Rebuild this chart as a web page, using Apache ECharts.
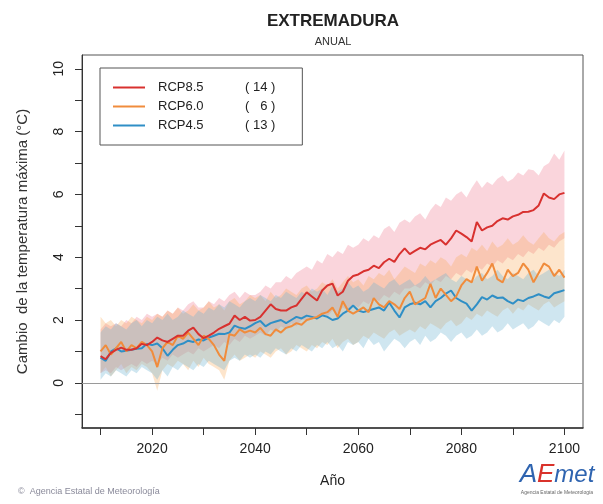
<!DOCTYPE html>
<html>
<head>
<meta charset="utf-8">
<script src="https://cdn.jsdelivr.net/npm/echarts@6/dist/echarts.min.js"></script>
<style>html,body{margin:0;padding:0;background:#fff}#c{width:603px;height:504px}</style>
</head>
<body>
<div id="c"></div>
<script>
// ---- data ----
const years = [];
for (let y = 2010; y <= 2100; y++) years.push(y);

const xTicks = [2010, 2020, 2030, 2040, 2050, 2060, 2070, 2080, 2090, 2100];
const xLabels = [2020, 2040, 2060, 2080, 2100];
const yTicks = [-1, 0, 1, 2, 3, 4, 5, 6, 7, 8, 9, 10];
const yLabels = [0, 2, 4, 6, 8, 10];

const seriesNames = ['RCP8.5', 'RCP6.0', 'RCP4.5'];
const modelCounts = [14, 6, 13];

const rcp85 = [
  0.85, 0.75, 0.95, 1.05, 1.12, 1.05, 1.05, 1.10, 1.24, 1.20,
  1.30, 1.44, 1.35, 1.30, 1.40, 1.50, 1.50, 1.66, 1.76, 1.55,
  1.42, 1.50, 1.60, 1.72, 1.80, 1.88, 2.14, 2.00, 2.10, 1.98,
  2.00, 2.10, 2.30, 2.50, 2.35, 2.30, 2.30, 2.40, 2.46, 2.67,
  2.88, 2.75, 2.62, 2.94, 3.10, 3.16, 2.78, 2.90, 3.25, 3.40,
  3.45, 3.55, 3.60, 3.73, 3.65, 3.84, 3.95, 3.85, 4.10, 4.28,
  4.10, 4.20, 4.30, 4.25, 4.40, 4.48, 4.55, 4.40, 4.60, 4.85,
  4.75, 4.64, 4.50, 5.12, 4.85, 4.95, 5.00, 5.15, 5.24, 5.20,
  5.30, 5.35, 5.44, 5.45, 5.50, 5.65, 6.03, 5.90, 5.85, 6.00, 6.05
];
const rcp60 = [
  1.00, 1.20, 0.90, 1.10, 1.30, 1.00, 1.20, 1.10, 1.30, 1.20,
  1.00, 0.50, 1.10, 1.30, 1.20, 1.50, 1.40, 1.60, 1.40, 1.20,
  1.50, 1.40, 1.20, 0.90, 0.70, 1.55, 1.50, 1.70, 1.60, 1.66,
  1.60, 1.75, 1.55, 1.50, 1.70, 1.60, 1.75, 1.80, 1.90, 1.85,
  2.00, 2.05, 2.10, 2.20, 2.25, 2.40, 2.10, 2.60, 2.30, 2.20,
  2.30, 2.40, 2.25, 2.70, 2.50, 2.40, 2.60, 2.50, 2.35, 2.70,
  2.90, 2.50, 2.60, 2.70, 3.15, 2.70, 3.00, 2.80, 2.60, 2.75,
  3.10, 3.30, 3.20, 3.70, 3.25, 3.50, 3.80, 3.30, 3.20, 3.60,
  3.40, 3.50, 3.80, 3.60, 3.20, 3.50, 3.80, 3.70, 3.40, 3.60, 3.35
];
const rcp45 = [
  0.80, 0.70, 0.99, 1.10, 1.00, 1.02, 1.05, 1.08, 1.10, 1.24,
  1.20, 1.25, 1.10, 0.86, 1.05, 1.20, 1.25, 1.34, 1.30, 1.38,
  1.35, 1.44, 1.50, 1.56, 1.55, 1.60, 1.82, 1.75, 1.72, 1.80,
  1.90, 1.97, 1.80, 1.90, 1.95, 2.00, 1.90, 2.00, 2.10, 2.05,
  2.14, 2.10, 2.05, 2.15, 2.10, 2.00, 2.05, 2.20, 2.30, 2.46,
  2.30, 2.25, 2.30, 2.35, 2.40, 2.30, 2.56, 2.30, 2.08, 2.40,
  2.50, 2.55, 2.50, 2.60, 2.40, 2.60, 2.70, 2.84, 2.94, 2.70,
  2.60, 2.52, 2.30, 2.50, 2.73, 2.65, 2.78, 2.70, 2.72, 2.60,
  2.52, 2.65, 2.60, 2.70, 2.75, 2.82, 2.75, 2.70, 2.85, 2.90, 2.95
];

const rcp85Hi = [
  1.7, 1.9, 1.8, 1.9, 1.8, 2.0, 1.9, 2.1, 2.0, 2.2,
  2.1, 2.2, 2.1, 2.3, 2.2, 2.4, 2.3, 2.5, 2.6, 2.4,
  2.4, 2.6, 2.5, 2.7, 2.6, 2.8, 2.9, 2.7, 2.9, 2.8,
  2.8, 2.9, 3.1, 3.0, 3.2, 3.2, 3.4, 3.3, 3.5, 3.6,
  3.7, 3.6, 3.9, 3.8, 4.1, 4.0, 4.2, 4.1, 4.4, 4.3,
  4.4, 4.6, 4.5, 4.7, 4.6, 4.9, 5.0, 4.8, 5.1, 5.2,
  5.1, 5.3, 5.4, 5.2, 5.5, 5.7, 5.6, 5.9, 5.8, 6.0,
  6.1, 5.9, 6.2, 6.45, 6.2, 6.4, 6.3, 6.5, 6.6, 6.4,
  6.5, 6.7, 6.6, 6.8, 6.77, 6.6, 6.9, 7.0, 7.3, 7.1, 7.4
];
const rcp85Lo = [
  0.3, 0.4, 0.3, 0.5, 0.4, 0.5, 0.6, 0.5, 0.7, 0.6,
  0.7, 0.6, 0.8, 0.7, 0.9, 0.8, 0.9, 1.0, 0.9, 1.1,
  1.0, 1.1, 1.2, 1.1, 1.3, 1.2, 1.4, 1.3, 1.5, 1.4,
  1.5, 1.6, 1.5, 1.7, 1.6, 1.8, 1.7, 1.9, 1.8, 2.0,
  2.0, 2.1, 2.0, 2.2, 2.1, 2.3, 2.2, 2.4, 2.3, 2.5,
  2.4, 2.6, 2.5, 2.7, 2.6, 2.8, 2.7, 2.9, 2.8, 3.0,
  3.0, 3.1, 3.0, 3.2, 3.1, 3.3, 3.2, 3.4, 3.3, 3.5,
  3.4, 3.6, 3.5, 3.7, 3.6, 3.8, 3.7, 3.9, 3.8, 4.0,
  3.9, 4.1, 4.0, 4.2, 4.1, 4.3, 4.2, 4.4, 4.3, 4.5, 4.6
];
const rcp60Hi = [
  2.1, 1.9, 2.0, 1.8, 2.0, 1.9, 2.1, 2.0, 1.9, 2.1,
  2.0, 2.2, 2.1, 2.3, 2.2, 2.4, 2.2, 2.3, 2.5, 2.3,
  2.4, 2.6, 2.4, 2.5, 2.3, 2.6, 2.7, 2.5, 2.6, 2.8,
  2.7, 2.8, 2.6, 2.9, 2.7, 2.8, 3.0, 2.9, 2.8, 3.0,
  3.1, 2.9, 3.0, 3.2, 3.1, 3.3, 3.0, 3.2, 3.4, 3.2,
  3.3, 3.1, 3.4, 3.3, 3.5, 3.4, 3.6, 3.3, 3.5, 3.7,
  3.6, 3.5, 3.8, 3.7, 3.9, 3.8, 4.0, 3.9, 3.7, 4.0,
  4.1, 4.0, 4.3, 4.2, 4.4, 4.2, 4.5, 4.3, 4.4, 4.6,
  4.4, 4.5, 4.7, 4.5, 4.4, 4.6, 4.8, 4.6, 4.5, 4.7, 4.8
];
const rcp60Lo = [
  0.3, 0.5, 0.2, 0.4, 0.6, 0.3, 0.5, 0.4, 0.6, 0.5,
  0.3, -0.25, 0.4, 0.6, 0.5, 0.7, 0.6, 0.4, 0.7, 0.5,
  0.8, 0.6, 0.5, 0.4, 0.1, 0.7, 0.9, 0.7, 0.8, 0.9,
  0.8, 1.0, 0.9, 0.8, 1.0, 1.1, 0.9, 1.0, 1.2, 1.1,
  1.0, 1.2, 1.1, 1.3, 1.2, 1.4, 1.1, 1.3, 1.4, 1.2,
  1.3, 1.5, 1.4, 1.6, 1.5, 1.4, 1.6, 1.7, 1.5, 1.6,
  1.7, 1.6, 1.8, 1.7, 1.9, 1.8, 1.7, 1.9, 2.0, 1.8,
  1.9, 2.1, 2.0, 2.2, 2.1, 2.3, 2.2, 2.1, 2.3, 2.4,
  2.2, 2.4, 2.3, 2.5, 2.4, 2.3, 2.5, 2.6, 2.4, 2.5, 2.6
];
const rcp45Hi = [
  1.6, 1.8, 1.7, 1.9, 1.8, 1.7, 1.9, 2.0, 1.8, 2.0,
  1.9, 2.1, 2.0, 2.2, 2.0, 2.1, 2.3, 2.2, 2.1, 2.3,
  2.2, 2.4, 2.3, 2.5, 2.4, 2.6, 2.5, 2.4, 2.6, 2.7,
  2.6, 2.8, 2.7, 2.6, 2.8, 2.7, 2.9, 2.8, 2.7, 2.9,
  2.8, 3.0, 2.9, 3.0, 2.8, 3.1, 2.9, 3.0, 3.2, 3.0,
  3.1, 2.9, 3.0, 3.2, 3.1, 3.0, 3.2, 3.3, 3.1, 3.2,
  3.3, 3.1, 3.2, 3.4, 3.2, 3.3, 3.4, 3.5, 3.3, 3.2,
  3.4, 3.3, 3.2, 3.4, 3.5, 3.3, 3.4, 3.6, 3.4, 3.3,
  3.5, 3.4, 3.3, 3.5, 3.6, 3.4, 3.5, 3.6, 3.5, 3.4, 3.6
];
const rcp45Lo = [
  0.1, 0.3, 0.2, 0.4, 0.3, 0.2, 0.4, 0.3, 0.5, 0.4,
  0.3, 0.1, 0.4, 0.2, 0.5, 0.4, 0.6, 0.5, 0.4, 0.6,
  0.5, 0.7, 0.6, 0.5, 0.4, 0.7, 0.8, 0.7, 0.9, 0.8,
  0.9, 0.8, 1.0, 0.9, 1.1, 1.0, 0.9, 1.1, 1.0, 1.2,
  1.1, 1.0, 1.2, 1.1, 1.3, 1.1, 1.2, 1.0, 1.3, 1.2,
  1.3, 1.1, 1.4, 1.2, 1.3, 1.0, 1.2, 1.4, 1.3, 1.1,
  1.3, 1.4, 1.2, 1.5, 1.3, 1.4, 1.6, 1.5, 1.3, 1.5,
  1.6, 1.4, 1.5, 1.7, 1.5, 1.6, 1.8, 1.6, 1.7, 1.9,
  1.7, 1.8, 1.9, 1.7, 1.8, 2.0, 1.9, 1.8, 2.0, 1.9, 2.1
];

// ---- styles ----
const FONT = "'Liberation Sans', Arial, Helvetica, sans-serif";
const lineColors = ['#d8312f', '#f08c3c', '#2f8fc6'];
const bandColors = ['rgba(236,100,125,0.27)', 'rgba(250,170,85,0.30)', 'rgba(110,180,210,0.33)'];

function bandSeries(lo, hi, color) {
  return {
    type: 'custom',
    silent: true,
    z: 1,
    data: years.map((y, i) => [y, lo[i], hi[i]]),
    encode: { x: 0, y: [1, 2] },
    renderItem: function (params, api) {
      if (params.dataIndex !== 0) return null;
      const pts = [];
      for (let i = 0; i < years.length; i++) pts.push(api.coord([years[i], hi[i]]));
      for (let i = years.length - 1; i >= 0; i--) pts.push(api.coord([years[i], lo[i]]));
      return { type: 'polygon', shape: { points: pts }, style: { fill: color, stroke: null } };
    }
  };
}
function lineSeries(name, vals, color, z) {
  return {
    name: name, type: 'line', showSymbol: false, symbol: 'none', z: z,
    data: years.map((y, i) => [y, vals[i]]),
    lineStyle: { color: color, width: 2 }, itemStyle: { color: color },
    emphasis: { disabled: true }
  };
}

const chart = echarts.init(document.getElementById('c'), null, { renderer: 'canvas' });
const option = {
  animation: false,
  backgroundColor: '#fff',
  textStyle: { fontFamily: FONT },
  grid: { left: 82, right: 20, top: 55, bottom: 76, show: true, borderColor: '#555', borderWidth: 1 },
  xAxis: {
    type: 'value', min: 2006.4, max: 2103.6,
    axisLine: { show: true, onZero: false, lineStyle: { color: '#333', width: 1.5 } },
    axisTick: { show: true, customValues: xTicks, length: 7, lineStyle: { color: '#333' } },
    axisLabel: { customValues: xLabels, formatter: function (v) { return String(v); }, color: '#222', fontSize: 14, margin: 14, fontFamily: FONT },
    splitLine: { show: false },
    name: 'Año', nameLocation: 'middle', nameGap: 46,
    nameTextStyle: { color: '#222', fontSize: 14, fontFamily: FONT }
  },
  yAxis: {
    type: 'value', min: -1.44, max: 10.44,
    axisLine: { show: true, onZero: false, lineStyle: { color: '#333', width: 1 } },
    axisTick: { show: true, customValues: yTicks, length: 7, lineStyle: { color: '#333' } },
    axisLabel: { customValues: yLabels, formatter: function (v) { return String(v); }, rotate: 90, color: '#222', fontSize: 14, margin: 16, fontFamily: FONT },
    splitLine: { show: false },
    name: 'Cambio  de la temperatura máxima (°C)', nameLocation: 'middle', nameGap: 52,
    nameTextStyle: { color: '#333', fontSize: 15, fontFamily: FONT }
  },
  legend: {
    data: seriesNames, orient: 'vertical', left: 100, top: 68,
    padding: [13, 27, 13, 13], itemGap: 6, itemWidth: 32, itemHeight: 2, icon: 'rect',
    borderColor: '#555', borderWidth: 1,
    selectedMode: false,
    formatter: function (name) {
      const n = modelCounts[seriesNames.indexOf(name)];
      const s = String(n).length < 2 ? '(   ' + n + ' )' : '( ' + n + ' )';
      return '{a|' + name + '}{b|' + s + '}';
    },
    textStyle: {
      fontFamily: FONT, fontSize: 13, color: '#222',
      rich: {
        a: { width: 87, height: 14, padding: [0, 0, 0, 8], fontSize: 13, color: '#222', fontFamily: FONT },
        b: { height: 14, fontSize: 13, color: '#222', fontFamily: FONT }
      }
    }
  },
  graphic: [
    { type: 'text', x: 333, y: 13, style: { text: 'EXTREMADURA', fontFamily: FONT, fontSize: 17, fontWeight: 'bold', fill: '#222', textAlign: 'center' } },
    { type: 'text', x: 333, y: 36, style: { text: 'ANUAL', fontFamily: FONT, fontSize: 11, fill: '#333', textAlign: 'center' } },
    { type: 'text', x: 18, y: 487, style: { text: '©  Agencia Estatal de Meteorología', fontFamily: FONT, fontSize: 9, fill: '#8a8a9a' } },
    { type: 'text', x: 557, y: 462, style: {
        text: '{a|A}{b|E}{c|met}', textAlign: 'center', fontFamily: FONT,
        rich: {
          a: { fontSize: 26, fill: '#2f64b0', fontFamily: FONT, fontStyle: 'italic' },
          b: { fontSize: 26, fill: '#d9322b', fontFamily: FONT, fontStyle: 'italic' },
          c: { fontSize: 24, fill: '#2f64b0', fontFamily: FONT, fontStyle: 'italic' }
        } } },
    { type: 'text', x: 557, y: 490, style: { text: 'Agencia Estatal de Meteorología', textAlign: 'center', fontFamily: FONT, fontSize: 5, fill: '#666' } }
  ],
  series: [
    bandSeries(rcp85Lo, rcp85Hi, bandColors[0]),
    bandSeries(rcp60Lo, rcp60Hi, bandColors[1]),
    bandSeries(rcp45Lo, rcp45Hi, bandColors[2]),
    {
      type: 'line', data: [], silent: true, z: 2,
      markLine: { silent: true, symbol: 'none', label: { show: false }, lineStyle: { color: '#9a9a9a', width: 1.2, type: 'solid' }, data: [{ yAxis: 0 }] }
    },
    lineSeries(seriesNames[2], rcp45, lineColors[2], 3),
    lineSeries(seriesNames[1], rcp60, lineColors[1], 4),
    lineSeries(seriesNames[0], rcp85, lineColors[0], 5)
  ]
};
chart.setOption(option);
</script>
</body>
</html>
